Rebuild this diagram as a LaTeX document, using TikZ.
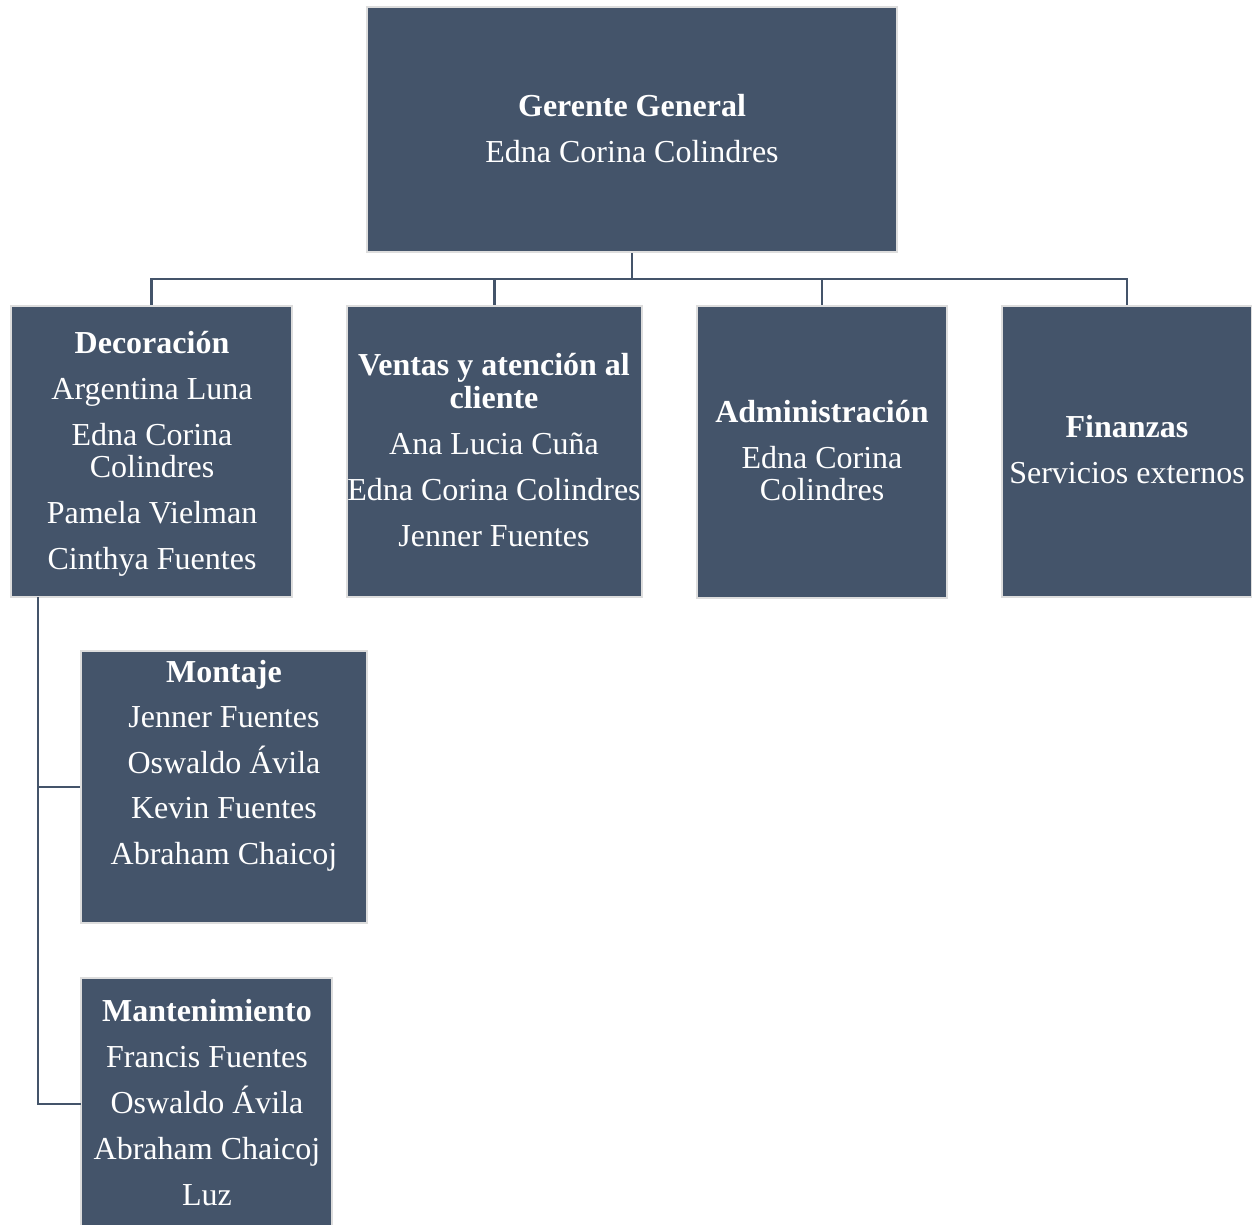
\documentclass[tikz,border=0pt]{standalone}
\usepackage{fontspec}
\setmainfont{Liberation Serif}
\definecolor{boxfill}{HTML}{44546A}
\definecolor{boxedge}{HTML}{DDDDDD}
\definecolor{linec}{HTML}{44546A}
\begin{document}
\begin{tikzpicture}[x=1pt,y=-1pt,
  orgbox/.style={rectangle,fill=boxfill,draw=boxedge,line width=2pt,inner sep=0pt},
  nm/.style={anchor=base,text=white,inner sep=0pt,font=\fontsize{32}{33}\selectfont},
  hd/.style={nm,font=\fontsize{32}{33}\selectfont\bfseries},
  conn/.style={draw=linec,line width=2.2pt}]
\useasboundingbox (0,0) rectangle (1252,1224);
% boxes
\node[orgbox,minimum width=530pt,minimum height=245pt] (top) at (632,129.5) {};
\node[orgbox,minimum width=281pt,minimum height=291pt] (dec) at (151.5,451.5) {};
\node[orgbox,minimum width=295pt,minimum height=291pt] (ven) at (494.5,451.5) {};
\node[orgbox,minimum width=250pt,minimum height=292pt] (adm) at (822,452) {};
\node[orgbox,minimum width=250pt,minimum height=291pt] (fin) at (1127,451.5) {};
\node[orgbox,minimum width=286pt,minimum height=272pt] (mon) at (224,787) {};
\node[orgbox,minimum width=251pt,minimum height=282pt] (man) at (206.5,1119) {};
% connectors
\coordinate (bus) at (632,279);
\draw[conn] (top.south) -- (bus);
\draw[conn] (bus) -| (dec.north);
\draw[conn] (bus) -| (ven.north);
\draw[conn] (bus) -| (adm.north);
\draw[conn] (bus) -| (fin.north);
\coordinate (ds) at (38,597);
\coordinate (manin) at (81,1104);
\draw[conn] (ds) |- (mon.west);
\draw[conn] (ds) |- (manin);
% texts
\node[hd] (t1) at (632,116) {Gerente General};
\node[nm] (t2) at (632,162) {Edna Corina Colindres};
\node[hd] (d1) at (152,353) {Decoración};
\node[nm] (d2) at (152,399) {Argentina Luna};
\node[nm] (d3) at (152,445) {Edna Corina};
\node[nm] (d4) at (152,477) {Colindres};
\node[nm] (d5) at (152,523) {Pamela Vielman};
\node[nm] (d6) at (152,569) {Cinthya Fuentes};
\node[hd] (v1) at (494,375) {Ventas y atención al};
\node[hd] (v2) at (494,408) {cliente};
\node[nm] (v3) at (494,454) {Ana Lucia Cuña};
\node[nm] (v4) at (494,500) {Edna Corina Colindres};
\node[nm] (v5) at (494,546) {Jenner Fuentes};
\node[hd] (a1) at (822,422) {Administración};
\node[nm] (a2) at (822,468) {Edna Corina};
\node[nm] (a3) at (822,500) {Colindres};
\node[hd] (f1) at (1127,437) {Finanzas};
\node[nm] (f2) at (1127,483) {Servicios externos};
\node[hd] (m1) at (224,682) {Montaje};
\node[nm] (m2) at (224,727) {Jenner Fuentes};
\node[nm] (m3) at (224,773) {Oswaldo Ávila};
\node[nm] (m4) at (224,818) {Kevin Fuentes};
\node[nm] (m5) at (224,864) {Abraham Chaicoj};
\node[hd] (n1) at (207,1021) {Mantenimiento};
\node[nm] (n2) at (207,1067) {Francis Fuentes};
\node[nm] (n3) at (207,1113) {Oswaldo Ávila};
\node[nm] (n4) at (207,1159) {Abraham Chaicoj};
\node[nm] (n5) at (207,1205) {Luz};
\end{tikzpicture}
\end{document}
